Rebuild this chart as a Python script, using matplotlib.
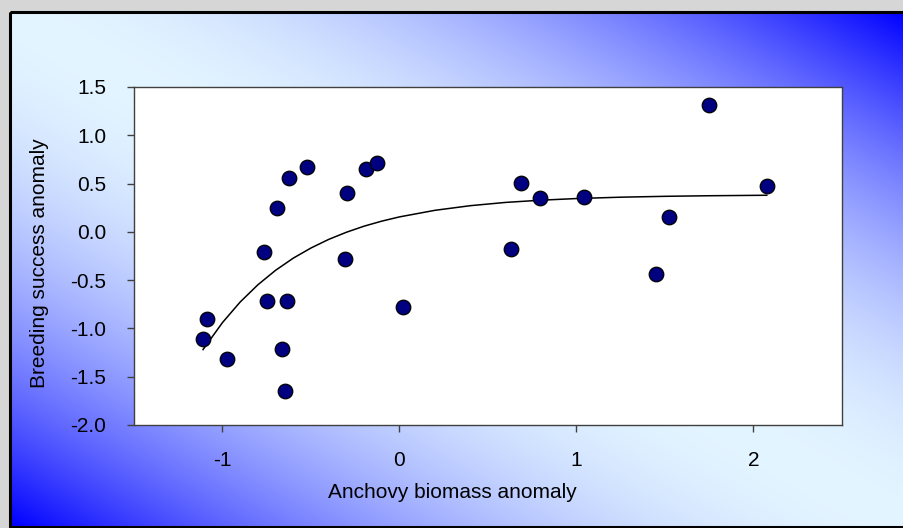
import numpy as np
import matplotlib
matplotlib.use("Agg")
import matplotlib.pyplot as plt
from matplotlib.patches import Rectangle

plt.rcParams['font.family'] = ['Liberation Sans', 'DejaVu Sans']
plt.rcParams['axes.unicode_minus'] = False

# anchovy biomass anomaly vs breeding success anomaly
biomass = [-1.111, -1.086, -0.977, -0.768, -0.751, -0.693, -0.663, -0.646,
           -0.637, -0.623, -0.521, -0.307, -0.294, -0.190, -0.126, 0.021,
           0.631, 0.685, 0.791, 1.041, 1.448, 1.521, 1.749, 2.075]
success = [-1.110, -0.906, -1.317, -0.210, -0.714, 0.242, -1.216, -1.651,
           -0.717, 0.559, 0.672, -0.285, 0.400, 0.649, 0.708, -0.782,
           -0.182, 0.501, 0.349, 0.362, -0.441, 0.149, 1.318, 0.470]

# fitted curve, points
fit_x = [-1.11, -1.0, -0.9, -0.8, -0.7, -0.6, -0.5, -0.4, -0.3, -0.2, -0.1,
         0.0, 0.2, 0.4, 0.6, 0.8, 1.0, 1.25, 1.5, 1.75, 2.075]
fit_y = [-1.219, -0.939, -0.726, -0.548, -0.398, -0.272, -0.167, -0.078,
         -0.004, 0.059, 0.111, 0.155, 0.223, 0.271, 0.305, 0.328, 0.345,
         0.359, 0.368, 0.374, 0.379]

xticks = [-1, 0, 1, 2]
yticks = [-2.0, -1.5, -1.0, -0.5, 0.0, 0.5, 1.0, 1.5]

W, H = 904, 528
fig = plt.figure(figsize=(W / 100, H / 100), dpi=100)
fig.patch.set_facecolor('#d6d6d6')

# gradient panel behind the chart
bg = fig.add_axes([0, 0, 1, 1], zorder=-1)
bg.set_xlim(0, W)
bg.set_ylim(H, 0)
bg.axis('off')
px0, py0, px1, py1 = 10, 12, W + 2, 527
gx, gy = np.meshgrid(np.linspace(0, 1, 300), np.linspace(0, 1, 200))
t = np.abs(gx - gy) ** 1.9
light = np.array([0.89, 0.96, 1.0])
blue = np.array([0.0, 0.0, 1.0])
img = light[None, None, :] * (1 - t[..., None]) + blue[None, None, :] * t[..., None]
bg.imshow(img, extent=[px0, px1, py1, py0], aspect='auto', interpolation='bilinear')
bg.add_patch(Rectangle((px0, py0), px1 - px0, py1 - py0, fill=False,
                       edgecolor='black', linewidth=2.2))

ax = fig.add_axes([134 / W, 1 - 425 / H, 708 / W, 338 / H])
ax.set_facecolor('white')
ax.scatter(biomass, success, s=110, color='#000080', edgecolor='black',
           linewidth=0.9, zorder=3)
ax.plot(fit_x, fit_y, color='black', linewidth=1.1, zorder=2)

ax.set_xlim(-1.5, 2.5)
ax.set_ylim(-2.0, 1.5)
ax.set_xticks(xticks)
ax.set_xticklabels([str(v) for v in xticks])
ax.set_yticks(yticks)
ax.set_yticklabels(['%.1f' % v for v in yticks])
for s in ax.spines.values():
    s.set_color('#404040')
    s.set_linewidth(1.0)
ax.tick_params(direction='out', length=5, width=1.0, color='#404040',
               labelsize=15, labelcolor='black')
ax.tick_params(axis='y', pad=15)
ax.tick_params(axis='x', pad=14)

ax.text(0.450, -0.200, 'Anchovy biomass anomaly', transform=ax.transAxes,
        fontsize=15, ha='center', va='center')
ax.text(-0.134, 0.479, 'Breeding success anomaly', transform=ax.transAxes,
        fontsize=15, ha='center', va='center', rotation=90)

fig.savefig('out.png', dpi=100)
